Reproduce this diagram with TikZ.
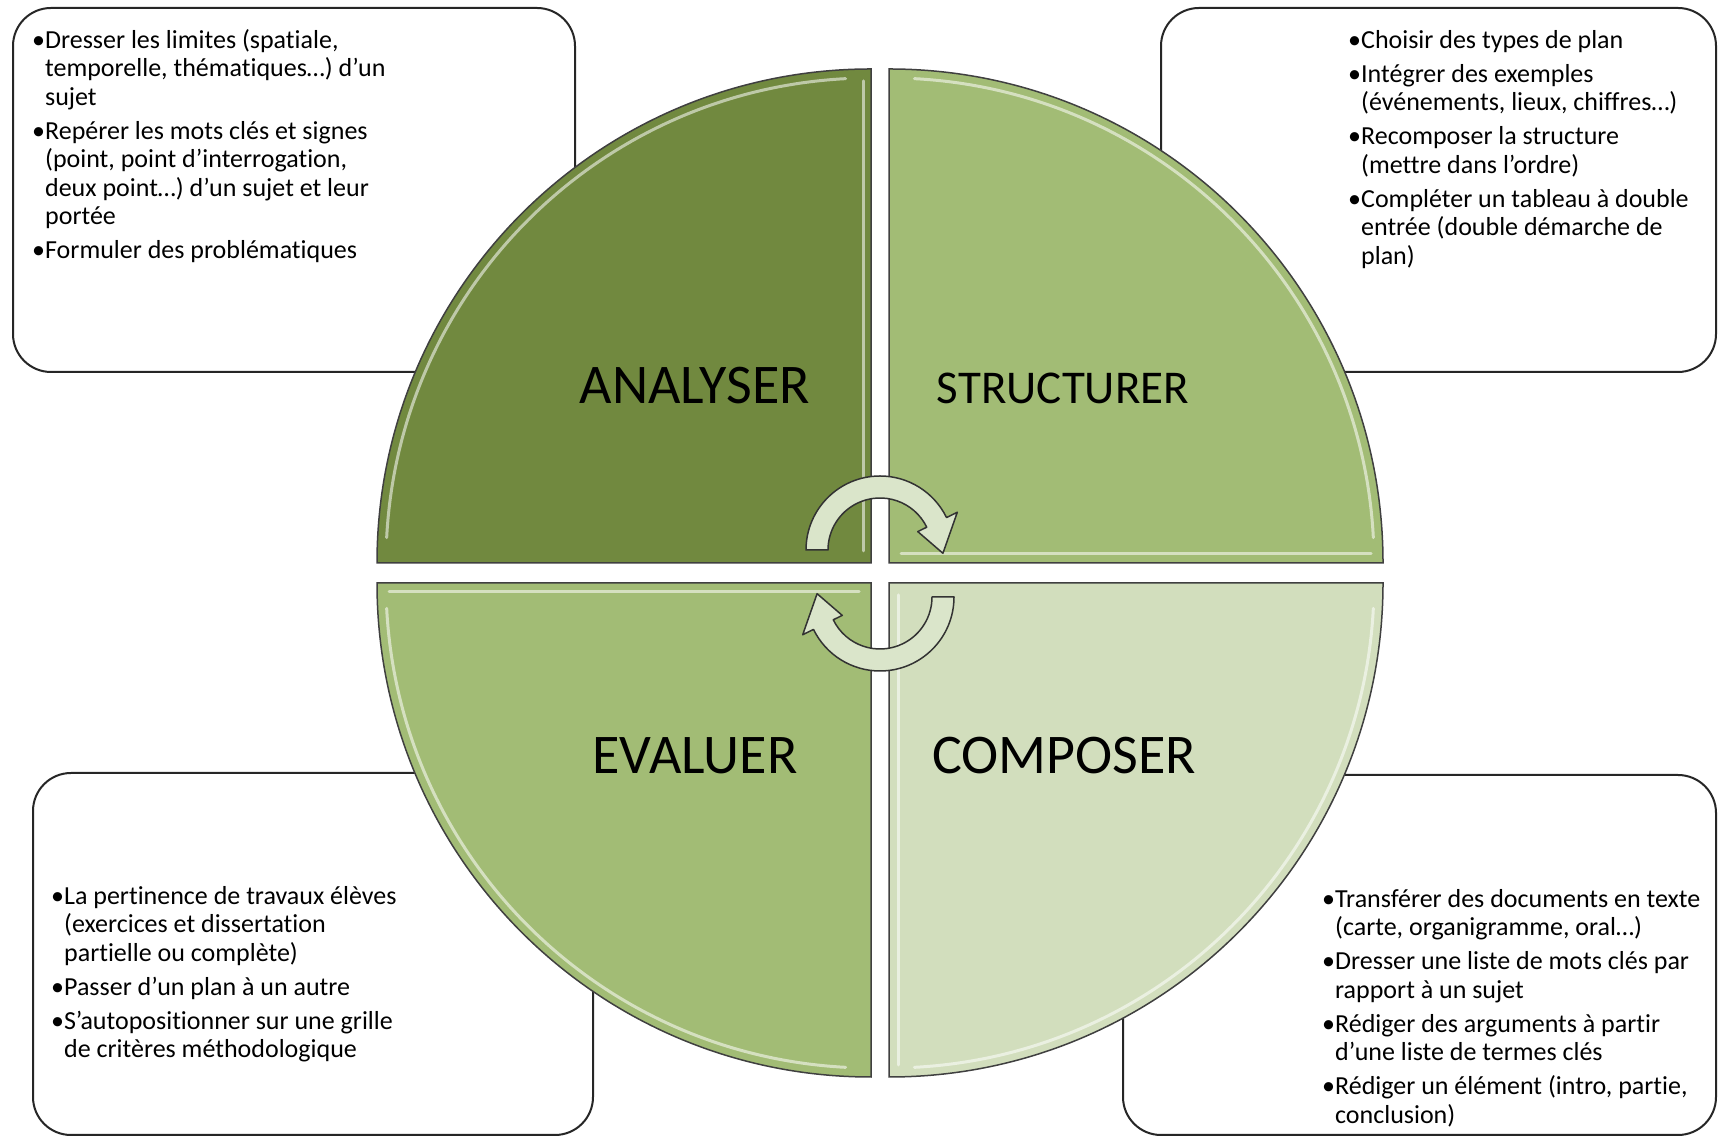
\documentclass[tikz,border=0pt]{standalone}
\usepackage{fontspec}
\setmainfont[RawFeature={-liga;-clig;-calt;-dlig;-rlig}]{Carlito}
\usetikzlibrary{positioning}
\definecolor{analyser}{RGB}{113,137,63}
\definecolor{structurer}{RGB}{162,188,117}
\definecolor{composer}{RGB}{210,222,189}
\definecolor{cycfill}{RGB}{218,229,202}
\newcommand{\bul}{\textbullet}
\newcommand{\ind}{\phantom{\textbullet}}

\begin{document}
\begin{tikzpicture}[x=1pt, y=1pt,
	box/.style={draw=black!85, line width=2pt, fill=white, rounded corners=38pt},
	quad/.style={draw=black!75, line width=1.5pt},
	hl/.style={draw=white, line width=3pt, opacity=.55, line cap=round},
	cyc/.style={draw=black!80, line width=1.5pt, fill=cycfill, line join=round},
	lbl/.style={font=\fontsize{56}{60}\selectfont},
	txt/.style={font=\fontsize{26}{28.5}\selectfont, align=left, inner sep=0pt, anchor=north west}]
			\useasboundingbox (0,0) rectangle (1718,1137);
			\draw[box] (13,765) rectangle (575,1129);
			\draw[box] (1161,765) rectangle (1716,1129);
			\draw[box] (33,2) rectangle (593,364);
			\draw[box] (1123,2) rectangle (1716,362);
			\coordinate (cA) at (871,574);
			\coordinate (cS) at (889,574);
			\coordinate (cE) at (871,554);
			\coordinate (cC) at (889,554);
			\draw[quad, fill=analyser] (cA) -- ++(-494,0) arc[start angle=180, end angle=90, radius=494] -- cycle;
			\draw[quad, fill=structurer] (cS) -- ++(0,494) arc[start angle=90, end angle=0, radius=494] -- cycle;
			\draw[quad, fill=composer] (cC) -- ++(494,0) arc[start angle=0, end angle=-90, radius=494] -- cycle;
			\draw[quad, fill=structurer] (cE) -- ++(0,-494) arc[start angle=-90, end angle=-180, radius=494] -- cycle;
			\draw[hl] ([shift={(177:485)}]cA) arc[start angle=177, end angle=93, radius=485];
			\draw[hl] ([shift={(-8,12)}]cA) -- ([shift={(-8,482)}]cA);
			\draw[hl] ([shift={(87:485)}]cS) arc[start angle=87, end angle=3, radius=485];
			\draw[hl] ([shift={(12,9)}]cS) -- ([shift={(482,9)}]cS);
			\draw[hl] ([shift={(-3:485)}]cC) arc[start angle=-3, end angle=-87, radius=485];
			\draw[hl] ([shift={(9,-12)}]cC) -- ([shift={(9,-482)}]cC);
			\draw[hl] ([shift={(-93:485)}]cE) arc[start angle=-93, end angle=-177, radius=485];
			\draw[hl] ([shift={(-12,-9)}]cE) -- ([shift={(-482,-9)}]cE);
			\coordinate (ta) at (880,587);
			\coordinate (ba) at (880,540);
			\draw[cyc] ([shift={(180:74)}]ta) arc[start angle=180, end angle=26, radius=74] -- ([shift={(26:86)}]ta) -- ([shift={(-3:63)}]ta) -- ([shift={(26:42)}]ta) -- ([shift={(26:52)}]ta) arc[start angle=26, end angle=180, radius=52] -- cycle;
			\draw[cyc] ([shift={(0:74)}]ba) arc[start angle=0, end angle=-154, radius=74] -- ([shift={(-154:86)}]ba) -- ([shift={(-183:63)}]ba) -- ([shift={(-154:42)}]ba) -- ([shift={(-154:52)}]ba) arc[start angle=-154, end angle=0, radius=52] -- cycle;
			\node[lbl] (analyser) at (695,751) {ANALYSER};
			\node[lbl, font=\fontsize{47}{50}\selectfont] (structurer) at (1063,749) {STRUCTURER};
			\node[lbl] (evaluer) at (695,381) {EVALUER};
			\node[lbl] (composer) at (1064,381) {COMPOSER};
			\node[txt] (tA) at (32,1108) {\bul Dresser les limites (spatiale,\\ \ind temporelle, thématiques…) d’un\\ \ind sujet\\[5.5pt]
				\bul Repérer les mots clés et signes\\ \ind (point, point d’interrogation,\\ \ind deux point…) d’un sujet et leur\\ \ind portée\\[5.5pt]
				\bul Formuler des problématiques};
			\node[txt] (tS) at (1348,1107) {\bul Choisir des types de plan\\[5.5pt]
				\bul Intégrer des exemples\\ \ind (événements, lieux, chiffres…)\\[5.5pt]
				\bul Recomposer la structure\\ \ind (mettre dans l’ordre)\\[5.5pt]
				\bul Compléter un tableau à double\\ \ind entrée (double démarche de\\ \ind plan)};
			\node[txt] (tE) at (51,251) {\bul La pertinence de travaux élèves\\ \ind (exercices et dissertation\\ \ind partielle ou complète)\\[5.5pt]
				\bul Passer d’un plan à un autre\\[5.5pt]
				\bul S’autopositionner sur une grille\\ \ind de critères méthodologique};
			\node[txt] (tC) at (1322,248) {\bul Transférer des documents en texte\\ \ind (carte, organigramme, oral…)\\[5.5pt]
				\bul Dresser une liste de mots clés par\\ \ind rapport à un sujet\\[5.5pt]
				\bul Rédiger des arguments à partir\\ \ind d’une liste de termes clés\\[5.5pt]
				\bul Rédiger un élément (intro, partie,\\ \ind conclusion)};
		\end{tikzpicture}
\end{document}
